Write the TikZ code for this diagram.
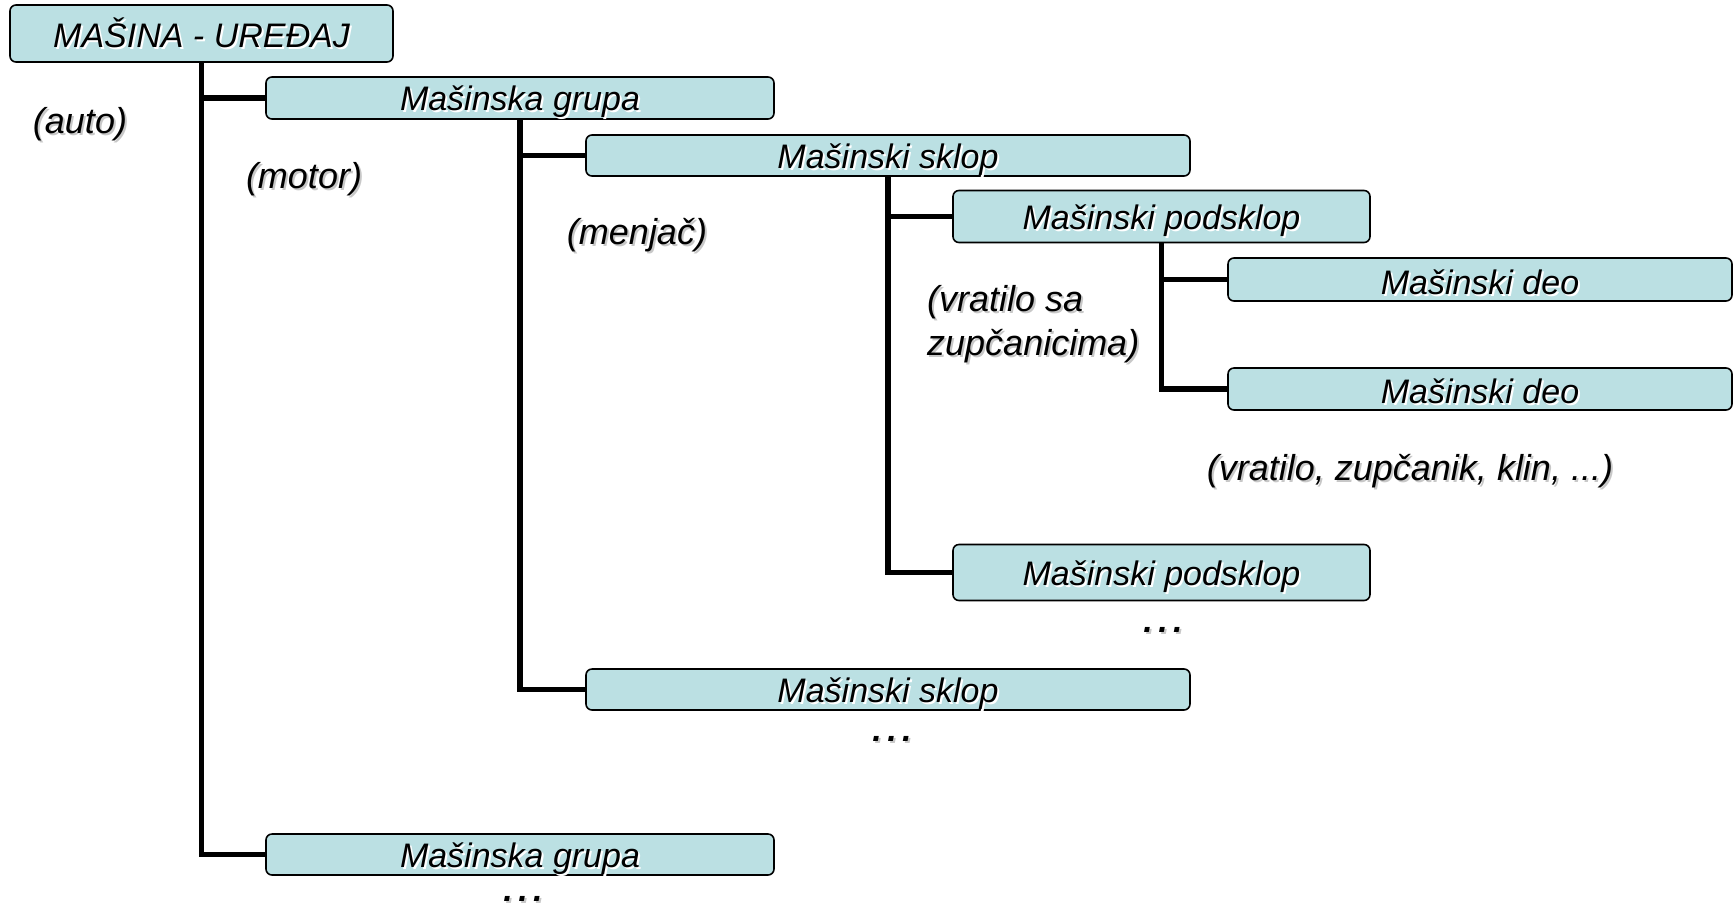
\documentclass[tikz,border=0pt]{standalone}
\usepackage{fontspec}
\setmainfont{Liberation Sans}
\definecolor{boxfill}{HTML}{BBE0E3}
\definecolor{shadowgray}{HTML}{C8C8C8}
\newcommand\shtxt[2]{\makebox[0pt][l]{\hspace{2pt}\raisebox{-2pt}{\color{#1}#2}}#2}
\newcommand\down[2]{\raisebox{-#1}[\height][\depth]{#2}}
\newcommand\btxt[1]{\down{5pt}{\shtxt{white}{#1}}}
\newcommand\ntxt[1]{\down{3.5pt}{\shtxt{shadowgray}{#1}}}
\newcommand\mydots{\shtxt{shadowgray}{\bfseries.\hspace{5.5pt}.\hspace{5.5pt}.}}
\tikzset{
  box/.style={draw=black, line width=1.6pt, fill=boxfill, rounded corners=6pt,
    inner sep=0pt, font=\fontsize{34}{40}\selectfont\itshape},
  conn/.style={line width=5.5pt, black},
  note/.style={font=\fontsize{36}{44}\selectfont\itshape, inner sep=0pt},
  dotsnode/.style={font=\fontsize{34}{40}\selectfont\itshape, inner sep=0pt, anchor=base}
}
\begin{document}
\begin{tikzpicture}[x=1pt,y=-1pt]
\useasboundingbox (0,0) rectangle (1734,906);
% boxes
\node[box, minimum width=383pt, minimum height=57pt] (A) at (201.5,33.5) {\shtxt{white}{MAŠINA - UREĐAJ}};
\node[box, minimum width=508pt, minimum height=42pt] (B1) at (520,98) {\btxt{Mašinska grupa}};
\node[box, minimum width=604pt, minimum height=41pt] (C1) at (888,155.5) {\btxt{Mašinski sklop}};
\node[box, minimum width=417pt, minimum height=52pt] (D1) at (1161.5,216.5) {\btxt{Mašinski podsklop}};
\node[box, minimum width=504pt, minimum height=43pt] (E1) at (1480,279.5) {\down{3.5pt}{\shtxt{white}{Mašinski deo}}};
\node[box, minimum width=504pt, minimum height=42pt] (E2) at (1480,389) {\down{3.5pt}{\shtxt{white}{Mašinski deo}}};
\node[box, minimum width=417pt, minimum height=56pt] (D2) at (1161.5,572.5) {\btxt{Mašinski podsklop}};
\node[box, minimum width=604pt, minimum height=41pt] (C2) at (888,689.5) {\btxt{Mašinski sklop}};
\node[box, minimum width=508pt, minimum height=41pt] (B2) at (520,854.5) {\btxt{Mašinska grupa}};
% connectors
\draw[conn] (A.south) |- (B2.west);
\draw[conn] (A.south |- B1.west) -- (B1.west);
\draw[conn] (B1.south) |- (C2.west);
\draw[conn] (B1.south |- C1.west) -- (C1.west);
\draw[conn] (C1.south) |- (D2.west);
\draw[conn] (C1.south |- D1.west) -- (D1.west);
\draw[conn] (D1.south) |- (E2.west);
\draw[conn] (D1.south |- E1.west) -- (E1.west);
% notes
\node[note] (nauto) at (80,122) {\ntxt{(auto)}};
\node[note] (nmotor) at (304,177) {\ntxt{(motor)}};
\node[note] (nmenjac) at (637,233) {\ntxt{(menjač)}};
\node[note, anchor=west, align=left] (nvratilo) at (927,325.5) {\shtxt{shadowgray}{(vratilo sa}\\\shtxt{shadowgray}{zupčanicima)}};
\node[note] (ndelovi) at (1410,469) {\ntxt{(vratilo, zupčanik, klin, ...)}};
% dots
\node[dotsnode] (dots1) at (1163,632) {\mydots};
\node[dotsnode] (dots2) at (892,741) {\mydots};
\node[dotsnode] (dots3) at (523,901) {\mydots};
\end{tikzpicture}
\end{document}
